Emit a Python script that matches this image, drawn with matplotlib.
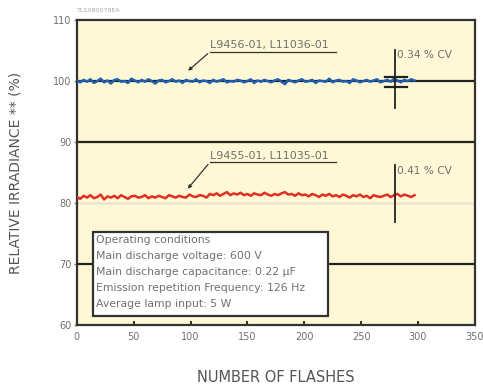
import numpy as np
import matplotlib.pyplot as plt
from matplotlib.patches import Rectangle

plt.rcParams['font.family'] = ['DejaVu Sans']

# flash number for each sample
flashes = np.arange(0, 300, 3)

# L9456-01 / L11036-01 relative output (%)
blue = [100.1, 99.8, 100.2, 99.9, 100.3, 99.7, 100.0, 100.4, 99.8, 100.1,
        99.6, 100.2, 100.3, 99.9, 100.0, 99.7, 100.4, 100.1, 99.8, 100.2,
        99.9, 100.3, 100.0, 99.6, 100.1, 100.2, 99.8, 100.0, 100.3, 99.9,
        100.1, 99.7, 100.2, 100.0, 99.9, 100.3, 99.8, 100.1, 100.0, 99.7,
        100.2, 99.9, 100.1, 100.3, 99.8, 100.0, 99.9, 100.2, 100.1, 99.8,
        100.0, 100.3, 99.7, 100.1, 99.9, 100.2, 100.0, 99.8, 100.1, 100.3,
        99.9, 99.5, 100.2, 100.0, 99.8, 100.1, 100.3, 99.9, 100.0, 100.2,
        99.7, 100.1, 100.0, 99.9, 100.4, 99.8, 100.1, 100.2, 99.9, 100.0,
        99.7, 100.3, 100.1, 99.8, 100.0, 100.2, 99.9, 100.1, 100.3, 99.8,
        100.0, 100.2, 99.9, 100.4, 100.1, 99.8, 100.2, 100.0, 100.3, 100.1]

# L9455-01 / L11035-01 relative output (%)
red = [81.0, 80.7, 81.2, 80.9, 81.3, 80.8, 81.0, 81.4, 80.6, 81.1,
       80.9, 81.2, 80.8, 81.3, 81.0, 80.7, 81.1, 81.2, 80.9, 81.0,
       81.3, 80.8, 81.1, 80.9, 81.2, 81.0, 80.8, 81.3, 81.1, 80.9,
       81.2, 81.0, 80.9, 81.4, 81.1, 81.0, 81.3, 81.2, 80.9, 81.5,
       81.3, 81.6, 81.2, 81.5, 81.8, 81.3, 81.6, 81.4, 81.7, 81.3,
       81.5, 81.2, 81.6, 81.4, 81.3, 81.7, 81.4, 81.2, 81.5, 81.3,
       81.6, 81.8, 81.4, 81.5, 81.2, 81.6, 81.3, 81.4, 81.1, 81.5,
       81.3, 81.0, 81.4, 81.2, 81.5, 81.1, 81.3, 81.0, 81.4, 81.2,
       80.9, 81.3, 81.1, 81.4, 81.0, 81.2, 80.8, 81.3, 81.1, 81.0,
       81.2, 81.4, 81.0, 81.3, 81.5, 81.1, 81.4, 81.2, 81.0, 81.3]

xticks = [0, 50, 100, 150, 200, 250, 300, 350]
yticks = [60, 70, 80, 90, 100, 110]

conditions = ["Operating conditions",
              "Main discharge voltage: 600 V",
              "Main discharge capacitance: 0.22 \u03bcF",
              "Emission repetition Frequency: 126 Hz",
              "Average lamp input: 5 W"]

grey = '#707070'

fig = plt.figure(figsize=(4.83, 3.87), dpi=100)
ax = fig.add_axes([0.159, 0.16, 0.824, 0.788])
ax.set_facecolor('#fff8d6')

ax.set_xlim(0, 350)
ax.set_ylim(60, 110)
ax.set_xticks(xticks)
ax.set_yticks(yticks)
ax.tick_params(axis='x', direction='in', length=3, width=1.5, labelsize=7,
               labelcolor=grey, color='#333333', pad=5)
ax.tick_params(axis='y', direction='out', length=2, width=1, labelsize=7,
               labelcolor=grey, color='#888888', pad=2)
for s in ax.spines.values():
    s.set_linewidth(1.6)
    s.set_color('#333333')

for yv in [70, 90, 100]:
    ax.axhline(yv, color='#222222', lw=1.6, zorder=1)
ax.axhline(80, color='#ebe6cc', lw=1.8, zorder=1)

ax.plot(flashes, blue, color='#1f5fb4', lw=1.8, zorder=3)
ax.plot(flashes, red, color='#e03020', lw=1.8, zorder=3)

# CV markers
ax.plot([280, 280], [95.6, 105.1], color='#222222', lw=1.3, zorder=4)
ax.plot([271, 290], [100.7, 100.7], color='#222222', lw=1.6, zorder=4)
ax.plot([271, 290], [99.0, 99.0], color='#222222', lw=1.6, zorder=4)
ax.plot([280, 280], [76.9, 86.2], color='#222222', lw=1.3, zorder=4)
ax.text(281.5, 104.3, "0.34 % CV", fontsize=7.6, color=grey, va='center')
ax.text(281.5, 85.3, "0.41 % CV", fontsize=7.6, color=grey, va='center')

# lamp labels with leader lines
for label, ytxt, ypt in [("L9456-01, L11036-01", 104.8, 101.4),
                         ("L9455-01, L11035-01", 86.7, 82.0)]:
    ax.text(117.5, ytxt + 0.25, label, fontsize=8, color=grey, va='bottom')
    ax.plot([117, 228], [ytxt, ytxt], color='#333333', lw=0.9, zorder=4)
    ax.annotate("", xy=(96, ypt), xytext=(117, ytxt),
                arrowprops=dict(arrowstyle='-|>', color='#333333', lw=0.9,
                                mutation_scale=5), zorder=4)

# operating conditions box
ax.add_patch(Rectangle((14, 61.5), 206.5, 13.8, fc='white', ec='#333333',
                       lw=1.6, zorder=5))
for i, line in enumerate(conditions):
    ax.text(17, 73.9 - i * 2.6, line, fontsize=7.8, color=grey,
            va='center', zorder=6)

ax.set_xlabel("NUMBER OF FLASHES", fontsize=10.5, color='#555555', labelpad=20)
ax.set_ylabel("RELATIVE IRRADIANCE ** (%)", fontsize=10, color='#555555',
              labelpad=22)

fig.text(0.16, 0.972, "TLSXB0078EA", fontsize=4.5, color='#aaaaaa', va='center')

fig.savefig("out.png", dpi=100)
